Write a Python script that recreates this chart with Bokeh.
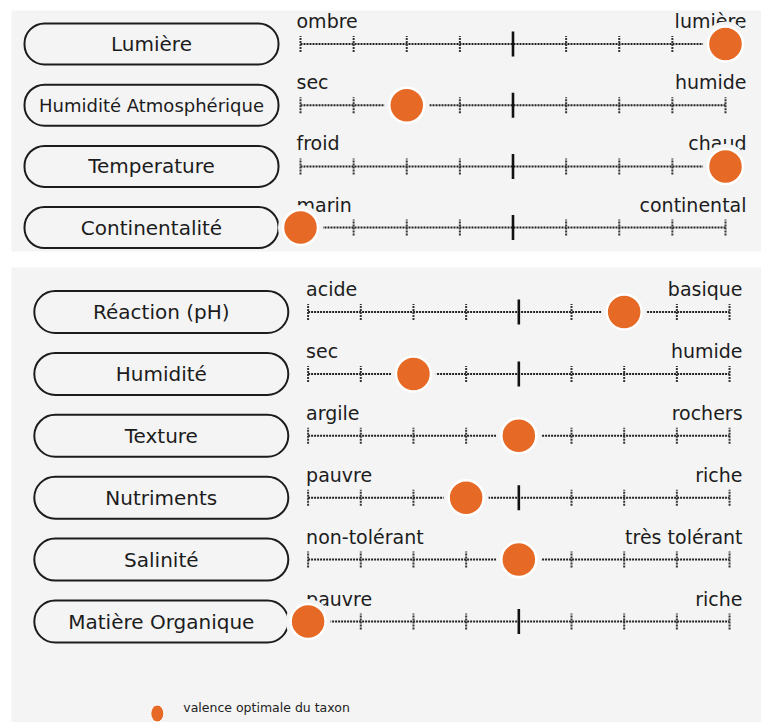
from bokeh.plotting import figure
from bokeh.models import ColumnDataSource, Range1d
from bokeh.layouts import column
from bokeh.core.properties import value
from bokeh.embed import file_html
from bokeh.resources import INLINE

# ---------------- data ----------------
scale_ticks = [1, 2, 3, 4, 5, 6, 7, 8, 9]
scale_mid = 5

climate_factors = ["Lumière", "Humidité Atmosphérique", "Temperature", "Continentalité"]
climate_low = ["ombre", "sec", "froid", "marin"]
climate_high = ["lumière", "humide", "chaud", "continental"]
climate_values = [9, 3, 9, 1]

soil_factors = ["Réaction (pH)", "Humidité", "Texture", "Nutriments", "Salinité", "Matière Organique"]
soil_low = ["acide", "sec", "argile", "pauvre", "non-tolérant", "pauvre"]
soil_high = ["basique", "humide", "rochers", "riche", "très tolérant", "riche"]
soil_values = [7, 3, 5, 4, 5, 1]

legend_label = "valence optimale du taxon"

# ---------------- style ----------------
BG = "#f4f4f4"
ORANGE = "#e66a25"
INK = "#1c1c1c"
FONT = "DejaVu Sans"
PAGE_W = 761


def build(factors, lows, highs, vals, fig_top, fig_h, borders, x_first, x_step,
          row0, row_step, box_cx, box_w, box_h, label_sizes, right_off, left_off,
          legend=False):
    top, bottom, left, right = borders
    frame_l = left
    frame_r = PAGE_W - right
    frame_t = fig_top + top
    frame_b = fig_top + fig_h - bottom
    xs = 1 + (frame_l - x_first) / x_step
    xe = 1 + (frame_r - x_first) / x_step
    ys = (frame_b - row0) / row_step
    ye = (frame_t - row0) / row_step

    p = figure(width=PAGE_W, height=fig_h, output_backend="svg", toolbar_location=None,
               x_range=Range1d(xs, xe), y_range=Range1d(ys, ye),
               min_border_top=top, min_border_bottom=bottom,
               min_border_left=left, min_border_right=right)
    p.axis.visible = False
    p.grid.visible = False
    p.outline_line_color = None
    p.background_fill_color = BG
    p.border_fill_color = "white"

    n = len(factors)
    rows = list(range(n))
    lo = scale_ticks[0]
    hi = scale_ticks[-1]

    # boxes with factor names
    bx = 1 + (box_cx - x_first) / x_step
    src_box = ColumnDataSource(dict(x=[bx] * n, y=rows, label=factors, fs=label_sizes))
    p.rect(x="x", y="y", width=box_w, height=box_h, width_units="screen", height_units="screen",
           source=src_box, fill_color=BG, line_color=INK, line_width=2,
           border_radius=int(box_h // 2))
    p.text(x="x", y="y", text="label", source=src_box, text_font=value(FONT),
           text_font_size="fs", text_align="center", text_baseline="middle", text_color=INK)

    # scale lines
    p.segment(x0=[lo] * n, x1=[hi] * n, y0=rows, y1=rows, line_color="#222222",
              line_width=2, line_dash="2 1")
    minor = [t for t in scale_ticks if t != scale_mid]
    tx, ty = [], []
    for r in rows:
        for t in minor:
            tx.append(t)
            ty.append(r)
    p.scatter(x=tx, y=ty, marker="dash", angle=1.5708, size=16, line_color="#333333",
              line_width=2, line_dash="2 1")
    p.scatter(x=[scale_mid] * n, y=rows, marker="dash", angle=1.5708, size=25,
              line_color="#111111", line_width=2.6)

    # end labels
    p.text(x=[lo] * n, y=rows, text=lows, x_offset=left_off, y_offset=-23,
           text_font=value(FONT), text_font_size="19px", text_align="left",
           text_baseline="alphabetic", text_color=INK)
    p.text(x=[hi] * n, y=rows, text=highs, x_offset=right_off, y_offset=-23,
           text_font=value(FONT), text_font_size="19px", text_align="right",
           text_baseline="alphabetic", text_color=INK)

    # optimum dots
    p.scatter(x=vals, y=rows, marker="circle", size=45, fill_color=BG, line_color=None)
    p.scatter(x=vals, y=rows, marker="circle", size=35, fill_color=ORANGE,
              line_color="white", line_width=2.5)

    if legend:
        lx = 1 + (156 - x_first) / x_step
        ly = (713 - row0) / row_step
        tx_ = 1 + (182 - x_first) / x_step
        ty_ = (707 - row0) / row_step
        p.ellipse(x=[lx], y=[ly], width=13, height=17, width_units="screen",
                  height_units="screen", fill_color=ORANGE, line_color="white", line_width=1)
        p.text(x=[tx_], y=[ty_], text=[legend_label], text_font=value(FONT),
               text_font_size="12.5px", text_align="left", text_baseline="middle",
               text_color="#222222")
    return p


p1 = build(climate_factors, climate_low, climate_high, climate_values,
           fig_top=0, fig_h=259, borders=(10, 8, 11, 0), x_first=300, x_step=53.125,
           row0=43.5, row_step=61.2, box_cx=151, box_w=254, box_h=41,
           label_sizes=["20px", "18px", "20px", "20px"], right_off=21, left_off=-4)

p2 = build(soil_factors, soil_low, soil_high, soil_values,
           fig_top=259, fig_h=463, borders=(8, 0, 10, 0), x_first=307, x_step=52.75,
           row0=311.5, row_step=61.9, box_cx=160, box_w=254, box_h=42,
           label_sizes=["20px"] * 6, right_off=13, left_off=-2, legend=True)

layout = column(p1, p2, spacing=0)
open("out.html", "w").write(file_html(layout, INLINE))
